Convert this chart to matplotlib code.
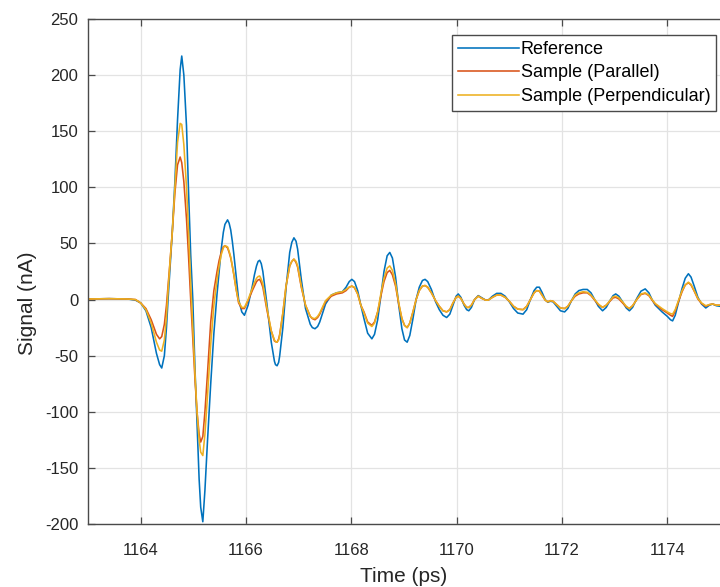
import matplotlib
matplotlib.use("Agg")
import matplotlib.pyplot as plt

# Time axis (ps), shared by the three traces (read at the features of the waveform)
time_ps = [
    1163.00, 1163.40, 1163.75, 1163.90, 1164.00, 1164.10, 1164.20, 1164.30, 1164.36, 1164.40,
    1164.45, 1164.49, 1164.52, 1164.56, 1164.60, 1164.65, 1164.70, 1164.75, 1164.78, 1164.82,
    1164.87, 1164.91, 1164.95, 1164.99, 1165.03, 1165.07, 1165.11, 1165.14, 1165.18, 1165.22,
    1165.27, 1165.33, 1165.39, 1165.45, 1165.49, 1165.53, 1165.57, 1165.60, 1165.65, 1165.68,
    1165.71, 1165.74, 1165.77, 1165.81, 1165.86, 1165.92, 1165.97, 1166.04, 1166.12, 1166.16,
    1166.20, 1166.23, 1166.26, 1166.29, 1166.32, 1166.40, 1166.48, 1166.54, 1166.56, 1166.59,
    1166.62, 1166.64, 1166.70, 1166.76, 1166.83, 1166.87, 1166.91, 1166.95, 1166.98, 1167.05,
    1167.13, 1167.22, 1167.26, 1167.31, 1167.36, 1167.40, 1167.51, 1167.62, 1167.72, 1167.83,
    1167.90, 1167.96, 1168.01, 1168.06, 1168.12, 1168.18, 1168.24, 1168.31, 1168.39, 1168.44,
    1168.50, 1168.56, 1168.62, 1168.68, 1168.73, 1168.78, 1168.84, 1168.90, 1168.96, 1169.01,
    1169.06, 1169.11, 1169.17, 1169.23, 1169.29, 1169.35, 1169.40, 1169.45, 1169.52, 1169.60,
    1169.67, 1169.74, 1169.81, 1169.87, 1169.93, 1169.99, 1170.03, 1170.08, 1170.14, 1170.19,
    1170.23, 1170.28, 1170.34, 1170.41, 1170.48, 1170.55, 1170.60, 1170.68, 1170.76, 1170.84,
    1170.92, 1171.00, 1171.08, 1171.16, 1171.26, 1171.33, 1171.40, 1171.47, 1171.52, 1171.57,
    1171.62, 1171.68, 1171.73, 1171.78, 1171.83, 1171.90, 1171.97, 1172.05, 1172.11, 1172.18,
    1172.25, 1172.32, 1172.40, 1172.48, 1172.55, 1172.62, 1172.69, 1172.77, 1172.84, 1172.91,
    1172.97, 1173.02, 1173.08, 1173.15, 1173.22, 1173.28, 1173.34, 1173.42, 1173.50, 1173.58,
    1173.65, 1173.71, 1173.77, 1173.90, 1174.00, 1174.06, 1174.10, 1174.15, 1174.21, 1174.28,
    1174.34, 1174.40, 1174.45, 1174.51, 1174.58, 1174.65, 1174.73, 1174.80, 1174.86, 1174.93,
    1175.00,
]

signal_reference = [
    0.5, 0.8, 0.5, -0.5, -3, -10, -25, -48, -58, -61,
    -50, -25, 0, 30, 60, 105, 160, 205, 217, 200,
    155, 95, 40, 0, -60, -110, -160, -185, -198, -170,
    -125, -75, -30, 5, 25, 45, 60, 67, 71, 68,
    62, 52, 40, 22, 0, -11, -14, -5, 12, 22,
    30, 34, 35, 32, 25, -5, -38, -55, -58, -59,
    -56, -50, -25, 10, 42, 51, 55, 52, 45, 18,
    -8, -22, -25, -26, -24, -20, -4, 4, 6, 7,
    11, 16, 18, 16, 8, -5, -17, -30, -35, -31,
    -18, 3, 25, 39, 42, 37, 20, -5, -26, -36,
    -38, -32, -17, 0, 11, 17, 18, 16, 9, -2,
    -9, -14, -16, -13, -5, 3, 5, 2, -5, -9,
    -10, -7, 0, 3.5, 1.5, -0.5, -0.5, 3, 5.5, 5.5,
    3, -2, -8, -12, -13, -9, 0, 8, 11, 11,
    6.5, 0, -2.4, -1.5, -2, -6, -10, -11, -8, -1,
    5, 8, 9, 9, 6, 0, -6, -10, -7, -1,
    3.5, 5, 3, -2, -7.5, -10, -7, 1, 7.5, 9.5,
    6, 0, -5, -11, -15, -18, -19, -14, -3, 10,
    19, 23, 20, 12, 2, -4, -7.5, -5, -4, -5.5,
    -6,
]

signal_parallel = [
    0.5, 0.8, 0.5, 0, -3, -8, -18, -31, -35, -33,
    -22, -5, 12, 35, 60, 95, 120, 127, 122, 105,
    72, 38, 0, -35, -70, -100, -120, -127, -122, -100,
    -65, -20, 8, 25, 35, 42, 47, 48, 46, 42,
    37, 30, 22, 10, -3, -8, -8, -1, 8, 12,
    16, 17.5, 18, 15, 11, -10, -28, -37, -37.5, -38,
    -35, -31, -12, 12, 30, 34, 36, 33, 29, 11,
    -5, -15, -17, -18, -16, -13, -2, 3, 5, 6,
    8, 11, 12, 10.5, 5, -5, -11, -20, -23, -20,
    -11, 3, 16, 24, 26, 22, 12, -4, -17, -23,
    -25, -21, -11, 0, 8, 12, 12.5, 11, 6, -1,
    -6, -10, -11, -9, -3, 2, 3, 1, -4, -7,
    -7, -5, 0, 3, 1, -0.5, -0.5, 2, 4, 4,
    2, -1.5, -6, -8.5, -9, -6, 0, 6, 8, 7.5,
    4, -0.5, -2, -1, -1.5, -4.5, -7.5, -8, -6, -1,
    3, 5, 6, 6, 3.5, -0.5, -4.5, -7, -5, -1.5,
    1.5, 2, 0.5, -3, -6.5, -8, -5.5, 0, 4.5, 5.5,
    3.5, -0.5, -4, -9, -12, -14, -15, -10, -2, 7,
    13, 15, 13, 7.5, 0.5, -3.5, -6, -4.5, -4, -5,
    -5,
]

signal_perpendicular = [
    0.5, 0.8, 0.5, 0, -3, -9, -21, -38, -45, -46,
    -36, -15, 8, 35, 60, 100, 140, 157, 156, 138,
    100, 60, 15, -25, -65, -100, -125, -136, -139, -120,
    -85, -40, -5, 18, 30, 40, 46, 48, 47, 43,
    38, 30, 22, 10, -2, -7, -7, 0, 10, 15,
    19, 20.5, 21, 18, 14, -8, -28, -36, -37.5, -38,
    -36, -32, -12, 12, 30, 34, 36, 34, 30, 12,
    -5, -15, -16.5, -17, -15, -12, -1, 4, 6, 7,
    9, 11, 12, 11, 5, -5, -12, -21, -24, -21,
    -11, 5, 19, 28, 30, 26, 14, -3, -17, -23,
    -25, -21, -11, 0, 8, 12, 12.5, 11, 6, -1,
    -6, -10, -11, -9, -3, 2, 3, 1, -4, -7,
    -7, -5, 0, 3, 1, -0.5, -0.5, 2, 4, 4,
    2, -1.5, -6, -8.5, -9, -6, 0, 6, 8, 7.5,
    4, -0.5, -2, -1, -1.5, -4.5, -7.5, -8, -6, -1,
    4, 6, 7, 6.5, 4, 0, -4, -7, -5, -1,
    2.5, 3, 1.5, -2, -6, -8, -5.5, 0, 5, 6,
    4, 0, -3.5, -8, -11, -12.5, -13, -9, -1, 8,
    13, 15.5, 13.5, 8, 1, -3, -5.5, -4.5, -4, -5,
    -5,
]

series_labels = ["Reference", "Sample (Parallel)", "Sample (Perpendicular)"]
series_colors = ["#0072BD", "#D95319", "#EDB120"]

x_ticks = [1164, 1166, 1168, 1170, 1172, 1174]
y_ticks = [-200, -150, -100, -50, 0, 50, 100, 150, 200, 250]

plt.rcParams["font.family"] = ["Liberation Sans", "DejaVu Sans"]
plt.rcParams["axes.unicode_minus"] = False

fig = plt.figure(figsize=(7.20, 5.87), dpi=100)
ax = fig.add_axes([88 / 720, 63 / 587, 632 / 720, 505 / 587])

for vals, lab, col in zip([signal_reference, signal_parallel, signal_perpendicular],
                          series_labels, series_colors):
    ax.plot(time_ps, vals, color=col, lw=1.15, label=lab, solid_joinstyle="round")

ax.set_xlim(1163, 1175)
ax.set_ylim(-200, 250)
ax.set_xticks(x_ticks)
ax.set_yticks(y_ticks)
ax.grid(True, color="#e3e3e3", lw=0.9)
ax.set_axisbelow(True)

axis_col = "#4a4a4a"
for side in ["left", "bottom", "top"]:
    ax.spines[side].set_color(axis_col)
    ax.spines[side].set_linewidth(1.0)
ax.spines["right"].set_visible(False)
ax.tick_params(direction="in", top=True, right=False, length=5, width=0.9,
               color=axis_col, labelsize=12, labelcolor="#262626")
ax.tick_params(axis="x", pad=14)
ax.tick_params(axis="y", pad=7)

ax.set_xlabel("Time (ps)", fontsize=15, color="#262626", labelpad=6)
ax.set_ylabel("Signal (nA)", fontsize=15, color="#262626")
ax.yaxis.set_label_coords(-0.081, 0.4376)

leg = ax.legend(loc="upper right", bbox_to_anchor=(0.994, 0.968), borderaxespad=0,
                fontsize=13, handlelength=3.35, handletextpad=0.12, labelspacing=0.36,
                borderpad=0.32, fancybox=False, framealpha=1, edgecolor="#4a4a4a")
leg.get_frame().set_linewidth(1.0)

fig.savefig("out.png", dpi=100)
